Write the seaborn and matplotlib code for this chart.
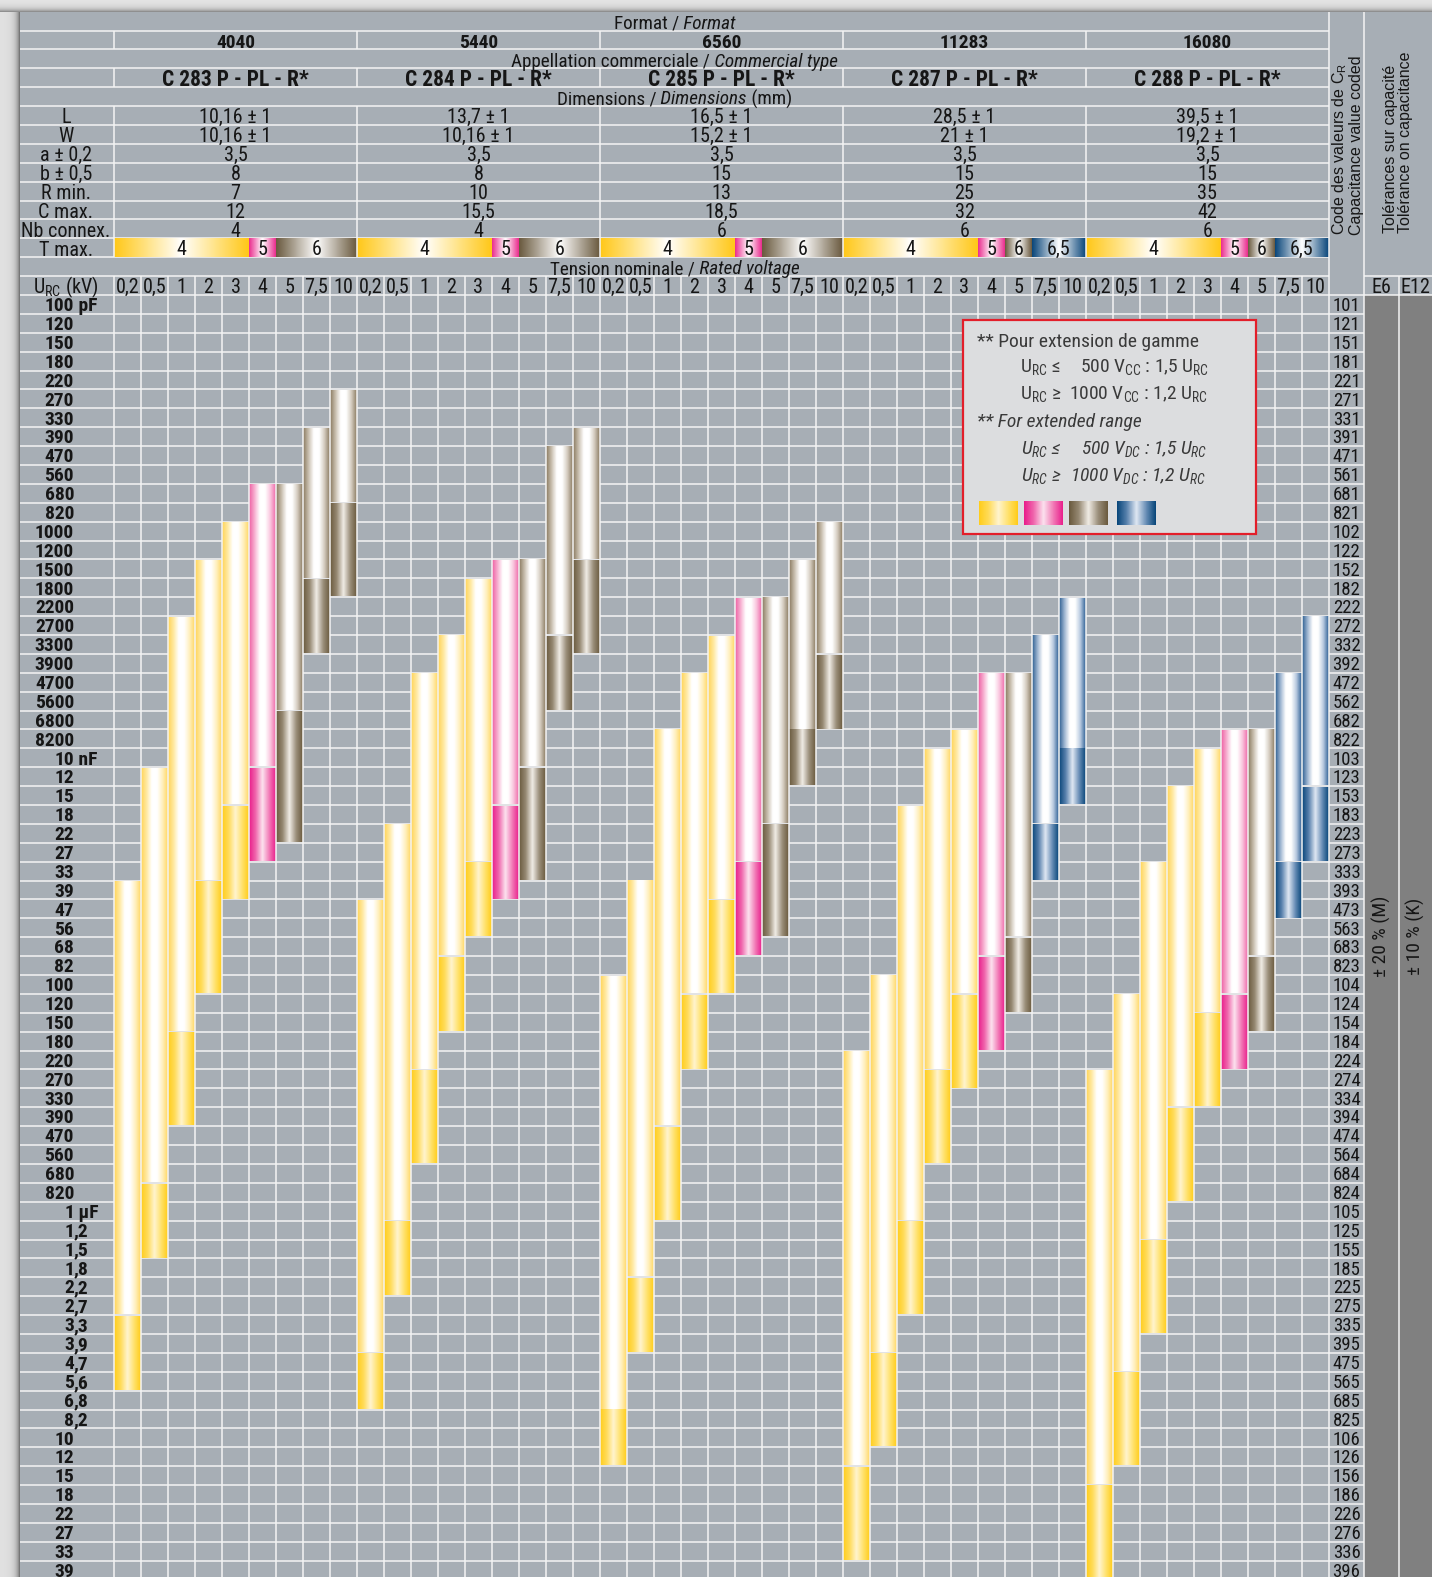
import numpy as np
import matplotlib
matplotlib.use("Agg")
import matplotlib.pyplot as plt
import seaborn as sns
from matplotlib import font_manager
from matplotlib.patches import Rectangle

# ---------------------------------------------------------------- data
FORMATS = ["4040", "5440", "6560", "11283", "16080"]
TYPES = ["C 283 P - PL - R*", "C 284 P - PL - R*", "C 285 P - PL - R*",
         "C 287 P - PL - R*", "C 288 P - PL - R*"]
DIM_LABELS = ["L", "W", "a ± 0,2", "b ± 0,5", "R min.", "C max.", "Nb connex."]
DIM_L = ["10,16 ± 1", "13,7 ± 1", "16,5 ± 1", "28,5 ± 1", "39,5 ± 1"]
DIM_W = ["10,16 ± 1", "10,16 ± 1", "15,2 ± 1", "21 ± 1", "19,2 ± 1"]
DIM_A = ["3,5", "3,5", "3,5", "3,5", "3,5"]
DIM_B = ["8", "8", "15", "15", "15"]
R_MIN = ["7", "10", "13", "25", "35"]
C_MAX = ["12", "15,5", "18,5", "32", "42"]
NB_CONNEX = ["4", "4", "6", "6", "6"]

VOLTAGES = ["0,2", "0,5", "1", "2", "3", "4", "5", "7,5", "10"]
TMAX_C283 = ["4", "4", "4", "4", "4", "5", "6", "6", "6"]
TMAX_C284 = ["4", "4", "4", "4", "4", "5", "6", "6", "6"]
TMAX_C285 = ["4", "4", "4", "4", "4", "5", "6", "6", "6"]
TMAX_C287 = ["4", "4", "4", "4", "4", "5", "6", "6,5", "6,5"]
TMAX_C288 = ["4", "4", "4", "4", "4", "5", "6", "6,5", "6,5"]
TMAX_CLASSES = ["4", "5", "6", "6,5"]

CAP_LABELS = [
    "100 pF", "120", "150", "180", "220", "270", "330", "390", "470", "560", "680", "820",
    "1000", "1200", "1500", "1800", "2200", "2700", "3300", "3900", "4700", "5600", "6800", "8200",
    "10 nF", "12", "15", "18", "22", "27", "33", "39", "47", "56", "68", "82",
    "100", "120", "150", "180", "220", "270", "330", "390", "470", "560", "680", "820",
    "1 µF", "1,2", "1,5", "1,8", "2,2", "2,7", "3,3", "3,9", "4,7", "5,6", "6,8", "8,2",
    "10", "12", "15", "18", "22", "27", "33", "39",
]
CAP_CODES = [
    "101", "121", "151", "181", "221", "271", "331", "391", "471", "561", "681", "821",
    "102", "122", "152", "182", "222", "272", "332", "392", "472", "562", "682", "822",
    "103", "123", "153", "183", "223", "273", "333", "393", "473", "563", "683", "823",
    "104", "124", "154", "184", "224", "274", "334", "394", "474", "564", "684", "824",
    "105", "125", "155", "185", "225", "275", "335", "395", "475", "565", "685", "825",
    "106", "126", "156", "186", "226", "276", "336", "396",
]

# bars per voltage column: first code, first code of the extended range (**), last code
C283_START = ["393", "123", "272", "152", "102", "681", "681", "391", "271"]
C283_EXT = ["335", "824", "184", "393", "183", "123", "682", "182", "821"]
C283_END = ["565", "155", "394", "104", "393", "273", "223", "332", "182"]
C284_START = ["473", "223", "472", "332", "182", "152", "152", "471", "391"]
C284_EXT = ["475", "125", "274", "823", "333", "183", "123", "332", "152"]
C284_END = ["685", "225", "564", "154", "563", "393", "333", "562", "332"]
C285_START = ["104", "393", "822", "472", "332", "222", "222", "152", "102"]
C285_EXT = ["825", "225", "474", "124", "473", "333", "223", "822", "392"]
C285_END = ["126", "395", "105", "224", "104", "683", "563", "123", "682"]
C287_START = ["224", "104", "183", "103", "822", "472", "472", "332", "222"]
C287_EXT = ["156", "475", "125", "274", "124", "823", "683", "223", "103"]
C287_END = ["336", "106", "275", "564", "274", "184", "124", "333", "153"]
C288_START = ["274", "124", "333", "153", "103", "822", "822", "472", "272"]
C288_EXT = ["186", "565", "155", "394", "154", "124", "823", "333", "153"]
C288_END = ["396", "126", "335", "824", "334", "224", "154", "473", "273"]

BAR_STARTS = [C283_START, C284_START, C285_START, C287_START, C288_START]
BAR_EXTS = [C283_EXT, C284_EXT, C285_EXT, C287_EXT, C288_EXT]
BAR_ENDS = [C283_END, C284_END, C285_END, C287_END, C288_END]
TMAX = [TMAX_C283, TMAX_C284, TMAX_C285, TMAX_C287, TMAX_C288]

# ---------------------------------------------------------------- layout (pixels)
W, H = 1432, 1577
TABLE_LEFT, TABLE_TOP = 20, 11.65
ROW_H = 18.89
LABEL_RIGHT = 114
COL_W = 27.0
N_HEAD = 15
CODE_LEFT = LABEL_RIGHT + 45 * COL_W
CODE_RIGHT = 1364
E6_RIGHT = 1399
INSET = 0.8

CELL_GRAY = "#A7AEB5"
DARK_GRAY = "#808080"
TEXT = "#161616"

# gradient stops (light part, extended part, T max band)
LIGHT = {
    "4": ["#FFD458", "#FFE9A0", "#FFFFFF", "#FFFFFF", "#FFF0C0", "#FFD865"],
    "5": ["#EE5FA3", "#F7AFD0", "#FFFFFF", "#FFFFFF", "#F9C6DE", "#EF6BAA"],
    "6": ["#8A7A60", "#C9BFAF", "#FFFFFF", "#FFFFFF", "#D4CCBF", "#8C7C63"],
    "6,5": ["#2C5E91", "#9FB6D1", "#FFFFFF", "#FFFFFF", "#B7C9DF", "#2F6196"],
}
DARK = {
    "4": ["#FFCD1C", "#FFDC5C", "#FFF4CF", "#FFE26E", "#FFCC1A"],
    "5": ["#E91D8B", "#F06AAE", "#FCE3EF", "#F27DB8", "#E9218C"],
    "6": ["#6A5A3E", "#978A74", "#F1EDE6", "#9C907C", "#6A5A3E"],
    "6,5": ["#08467A", "#5B83AE", "#E0E8F3", "#6A8FB7", "#08467A"],
}
BAND = {
    "4": ["#FFC81A", "#FFE48A", "#FFFFFF", "#FFE48A", "#FFC81A"],
    "5": ["#EA2E8F", "#FFFFFF", "#EA2E8F"],
    "6": ["#6B5B40", "#FFFFFF", "#6B5B40"],
    "6,5": ["#0B477B", "#FFFFFF", "#0B477B"],
}

sns.set_theme(style="white")


def pick_narrow_font():
    fonts = font_manager.fontManager.ttflist
    names = {f.name for f in fonts}
    for fam in ("Liberation Sans Narrow", "Roboto Condensed", "Open Sans Condensed",
                "Noto Sans Condensed", "DejaVu Sans Condensed"):
        if fam in names:
            return fam, "normal"
    for fam in ("DejaVu Sans", "Noto Sans", "Roboto", "Open Sans"):
        if any(f.name == fam and "condensed" in str(f.stretch) for f in fonts):
            return fam, "condensed"
    return "Liberation Sans", "normal"


NARROW, STRETCH = pick_narrow_font()
plt.rcParams["font.family"] = [NARROW, "DejaVu Sans"]
plt.rcParams["font.stretch"] = STRETCH
WIDE = ["Liberation Sans", "DejaVu Sans"]


def row_top(r):
    return TABLE_TOP + r * ROW_H


def col_left(c):
    return LABEL_RIGHT + c * COL_W


def gradient(ax, x0, x1, y0, y1, stops, z=2):
    pal = np.array(sns.blend_palette(stops, n_colors=64))[None, :, :]
    ax.imshow(pal, extent=(x0, x1, y1, y0), aspect="auto",
              interpolation="bilinear", zorder=z)


def draw_runs(ax, x, y, runs, size):
    renderer = ax.figure.canvas.get_renderer()
    pieces, widths = [], []
    for s, style in runs:
        t = ax.text(0, y, s, fontsize=size, fontstyle=style, color=TEXT,
                    ha="left", va="baseline", zorder=5)
        pieces.append(t)
        widths.append(t.get_window_extent(renderer).width)
    left = x - sum(widths) / 2
    for t, w in zip(pieces, widths):
        t.set_x(left)
        left += w


def split_label(lab):
    for i, ch in enumerate(lab):
        if ch in ", ":
            return lab[:i], lab[i:]
    return lab, ""


def main():
    fig = plt.figure(figsize=(W / 100, H / 100), dpi=100)
    fig.patch.set_facecolor("#DEDEDE")
    ax = fig.add_axes([0, 0, 1, 1])
    ax.axis("off")

    # drop shadow around the table
    xs = np.arange(TABLE_LEFT) + 0.5
    left_shade = 0.88 - 0.48 * np.exp(-(TABLE_LEFT - xs) / 3.5)
    ax.imshow(left_shade[None, :], cmap="gray", vmin=0, vmax=1, aspect="auto",
              extent=(0, TABLE_LEFT, H, 0), zorder=0)
    ys = np.arange(12) + 0.5
    top_shade = 0.9 - 0.4 * np.exp(-(12 - ys) / 3.0)
    ax.imshow(top_shade[:, None], cmap="gray", vmin=0, vmax=1, aspect="auto",
              extent=(0, W, TABLE_TOP, 0), zorder=0)

    # table backgrounds
    ax.add_patch(Rectangle((TABLE_LEFT, TABLE_TOP), W - TABLE_LEFT, H - TABLE_TOP,
                           facecolor=CELL_GRAY, edgecolor="none", zorder=0.5))
    ax.add_patch(Rectangle((CODE_RIGHT, row_top(N_HEAD)), W - CODE_RIGHT, H - row_top(N_HEAD),
                           facecolor=DARK_GRAY, edgecolor="none", zorder=0.6))

    line_kw = dict(colors="#F4F4F4", linewidth=1.1)
    # horizontal rules
    for r in range(1, N_HEAD):
        ax.hlines(row_top(r), TABLE_LEFT, CODE_LEFT, zorder=1, **line_kw)
    ax.hlines(row_top(14), CODE_RIGHT, W, zorder=1, **line_kw)
    ax.hlines(row_top(N_HEAD), TABLE_LEFT, W, zorder=1, **line_kw)
    for k in range(1, len(CAP_LABELS)):
        ax.hlines(row_top(N_HEAD + k), TABLE_LEFT, CODE_RIGHT, zorder=1, **line_kw)

    # vertical rules
    majors = [LABEL_RIGHT] + [col_left(9 * g) for g in range(1, len(FORMATS))]
    for x in majors:
        for r0, r1 in ((1, 2), (3, 4), (5, 13)):
            ax.vlines(x, row_top(r0), row_top(r1), zorder=3, **line_kw)
        ax.vlines(x, row_top(14), H, zorder=3, **line_kw)
    for c in range(1, 45):
        if c % 9:
            ax.vlines(col_left(c), row_top(14), H, zorder=3, **line_kw)
    ax.vlines([CODE_LEFT, CODE_RIGHT], TABLE_TOP, H, zorder=3, **line_kw)
    ax.vlines(E6_RIGHT, row_top(14), H, zorder=3, **line_kw)

    # capacitance range bars
    for g in range(len(FORMATS)):
        for j in range(len(VOLTAGES)):
            s = CAP_CODES.index(BAR_STARTS[g][j])
            e = CAP_CODES.index(BAR_EXTS[g][j])
            b = CAP_CODES.index(BAR_ENDS[g][j]) + 1
            x0 = col_left(9 * g + j)
            x1 = x0 + COL_W
            t = TMAX[g][j]
            gradient(ax, x0, x1, row_top(N_HEAD + s) + INSET, row_top(N_HEAD + e) - INSET, LIGHT[t])
            gradient(ax, x0, x1, row_top(N_HEAD + e) + INSET, min(row_top(N_HEAD + b) - INSET, H), DARK[t])

    # T max bands
    for g in range(len(FORMATS)):
        j = 0
        while j < len(VOLTAGES):
            k = j
            while k + 1 < len(VOLTAGES) and TMAX[g][k + 1] == TMAX[g][j]:
                k += 1
            x0, x1 = col_left(9 * g + j), col_left(9 * g + k + 1)
            gradient(ax, x0, x1, row_top(12), row_top(13), BAND[TMAX[g][j]])
            ax.text((x0 + x1) / 2, row_top(12) + 17.0, TMAX[g][j], fontsize=14.5,
                    color=TEXT, ha="center", va="baseline", zorder=5)
            j = k + 1

    # header text
    mid = (TABLE_LEFT + CODE_LEFT) / 2
    base = 17.2
    draw_runs(ax, mid, row_top(0) + base, [("Format /", "normal"), (" Format", "italic")], 13.8)
    draw_runs(ax, mid, row_top(2) + base,
              [("Appellation commerciale /", "normal"), (" Commercial type", "italic")], 13.8)
    draw_runs(ax, mid, row_top(4) + base,
              [("Dimensions /", "normal"), (" Dimensions", "italic"), (" (mm)", "normal")], 13.8)
    draw_runs(ax, mid, row_top(13) + base,
              [("Tension nominale /", "normal"), (" Rated voltage", "italic")], 13.8)

    label_x = (TABLE_LEFT + LABEL_RIGHT) / 2 - 1
    dim_rows = [DIM_L, DIM_W, DIM_A, DIM_B, R_MIN, C_MAX, NB_CONNEX]
    for i, lab in enumerate(DIM_LABELS):
        ax.text(label_x, row_top(5 + i) + base, lab, fontsize=14.5, color=TEXT,
                ha="center", va="baseline", zorder=5)
    ax.text(label_x, row_top(12) + base, "T max.", fontsize=14.5, color=TEXT,
            ha="center", va="baseline", zorder=5)
    ax.text(label_x, row_top(14) + base, r"U$_\mathregular{RC}$ (kV)", fontsize=14.5,
            color=TEXT, ha="center", va="baseline", zorder=5)

    for g in range(len(FORMATS)):
        cx = col_left(9 * g) + 4.5 * COL_W
        ax.text(cx, row_top(1) + base, FORMATS[g], fontsize=14, fontweight="bold",
                color=TEXT, ha="center", va="baseline", zorder=5)
        ax.text(cx, row_top(3) + 17.6, TYPES[g], fontsize=15.5, fontweight="bold",
                color=TEXT, ha="center", va="baseline", zorder=5)
        for i, vals in enumerate(dim_rows):
            ax.text(cx, row_top(5 + i) + base, vals[g], fontsize=14.5, color=TEXT,
                    ha="center", va="baseline", zorder=5)
        for j, v in enumerate(VOLTAGES):
            ax.text(col_left(9 * g + j) + COL_W / 2, row_top(14) + base, v, fontsize=14.5,
                    color=TEXT, ha="center", va="baseline", zorder=5)

    # capacitance labels and codes
    anchor = 74
    for k, (lab, code) in enumerate(zip(CAP_LABELS, CAP_CODES)):
        y = row_top(N_HEAD + k) + 16.2
        head, tail = split_label(lab)
        ax.text(anchor, y, head, fontsize=14, fontweight="bold", color=TEXT,
                ha="right", va="baseline", zorder=5)
        if tail:
            ax.text(anchor, y, tail, fontsize=14, fontweight="bold", color=TEXT,
                    ha="left", va="baseline", zorder=5)
        ax.text((CODE_LEFT + CODE_RIGHT) / 2, y, code,
                fontsize=13.5, color=TEXT, ha="center", va="baseline", zorder=5)

    # right-hand columns
    ax.text((CODE_LEFT + CODE_RIGHT) / 2 + 1, 235, "Code des valeurs de C$_\\mathregular{R}$\nCapacitance value coded",
            family=WIDE, fontsize=11.5, color=TEXT, rotation=90, rotation_mode="anchor",
            ha="left", va="center", linespacing=1.0, zorder=5)
    ax.text((CODE_RIGHT + W) / 2, 233, "Tolérances sur capacité\nTolérance on capacitance",
            family=WIDE, fontsize=11.5, color=TEXT, rotation=90, rotation_mode="anchor",
            ha="left", va="center", linespacing=1.0, zorder=5)
    ax.text((CODE_RIGHT + E6_RIGHT) / 2, row_top(14) + base, "E6", fontsize=14.5,
            color=TEXT, ha="center", va="baseline", zorder=5)
    ax.text((E6_RIGHT + W) / 2, row_top(14) + base, "E12", fontsize=14.5,
            color=TEXT, ha="center", va="baseline", zorder=5)
    chart_mid = (row_top(N_HEAD) + H) / 2
    ax.text((CODE_RIGHT + E6_RIGHT) / 2, chart_mid, "± 20 % (M)", fontsize=14,
            color=TEXT, rotation=90, ha="center", va="center", zorder=5)
    ax.text((E6_RIGHT + W) / 2, chart_mid, "± 10 % (K)", fontsize=14,
            color=TEXT, rotation=90, ha="center", va="center", zorder=5)

    # legend box
    ax.add_patch(Rectangle((963, 320), 293, 214, facecolor="#DCDDDF",
                           edgecolor="#E31E2A", linewidth=1.6, zorder=6))
    leg = dict(fontsize=14, color="#3A3A3A", ha="left", va="baseline", zorder=7)
    urc = r"U$_\mathregular{RC}$"
    ax.text(977, 347, "** Pour extension de gamme", **leg)
    ax.text(1020, 373, urc + " ≤", **leg)
    ax.text(1080, 373, r"500 V$_\mathregular{CC}$ : 1,5 " + urc, **leg)
    ax.text(1020, 400, urc + " ≥", **leg)
    ax.text(1069, 400, r"1000 V$_\mathregular{CC}$ : 1,2 " + urc, **leg)
    ax.text(977, 427, "** For extended range", fontstyle="italic", **leg)
    ax.text(1021, 455, urc + " ≤", fontstyle="italic", **leg)
    ax.text(1081, 455, r"500 V$_\mathregular{DC}$ : 1,5 " + urc, fontstyle="italic", **leg)
    ax.text(1021, 482, urc + " ≥", fontstyle="italic", **leg)
    ax.text(1070, 482, r"1000 V$_\mathregular{DC}$ : 1,2 " + urc, fontstyle="italic", **leg)
    for x0, t in zip([979, 1024, 1069, 1117], TMAX_CLASSES):
        gradient(ax, x0, x0 + 39, 501, 525, DARK[t], z=7)

    ax.set_xlim(0, W)
    ax.set_ylim(H, 0)
    fig.savefig("out.png", dpi=100, facecolor=fig.get_facecolor())


if __name__ == "__main__":
    main()
